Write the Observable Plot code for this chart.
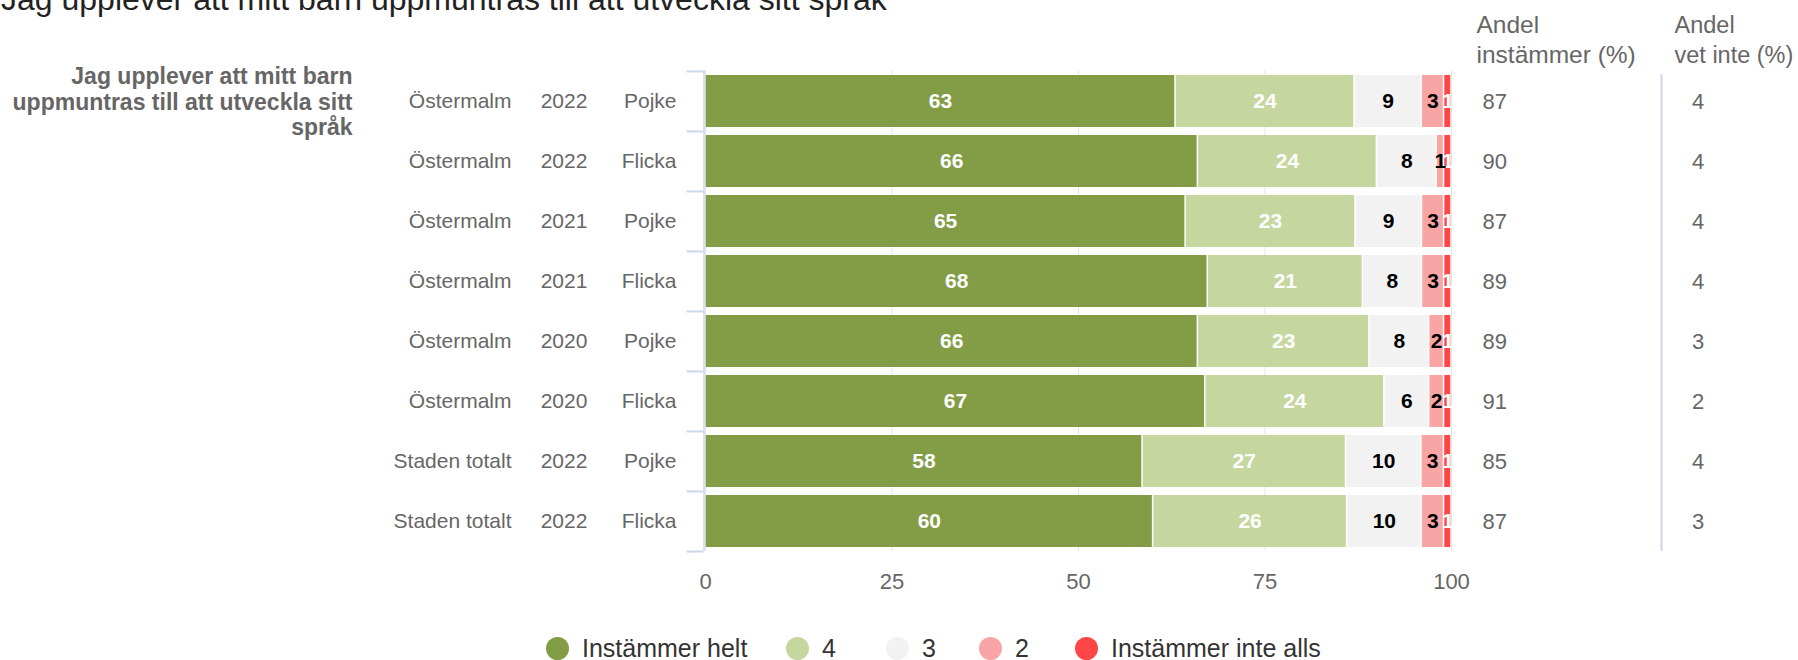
<!DOCTYPE html>
<html><head><meta charset="utf-8">
<script src="https://cdn.jsdelivr.net/npm/d3@7"></script>
<script src="https://cdn.jsdelivr.net/npm/@observablehq/plot@0.6"></script>
<style>
html,body{margin:0;padding:0;background:#fff;}
#wrap{position:relative;width:1798px;height:660px;overflow:hidden;font-family:"Liberation Sans",Arial,sans-serif;}
#title{position:absolute;left:1px;top:-17px;font-size:32px;line-height:32px;color:#222;white-space:nowrap;}
#legend{position:absolute;top:636px;left:0;width:1798px;height:24px;}
.item{position:absolute;top:0;display:flex;align-items:center;height:24px;font-size:25px;line-height:24px;color:#333;white-space:nowrap;}
.dot{width:23px;height:23px;border-radius:50%;margin-right:13px;flex:none;}
</style></head>
<body><div id="wrap"><div id="chart"></div><div id="title"></div><div id="legend"></div></div>
<script>
// ---- data ----
const titleText = "Jag upplever att mitt barn uppmuntras till att utveckla sitt språk";
const groupLabel = "Jag upplever att mitt barn\nuppmuntras till att utveckla sitt\nspråk";
const areas = ["Östermalm","Östermalm","Östermalm","Östermalm","Östermalm","Östermalm","Staden totalt","Staden totalt"];
const years = ["2022","2022","2021","2021","2020","2020","2022","2022"];
const genders = ["Pojke","Flicka","Pojke","Flicka","Pojke","Flicka","Pojke","Flicka"];
const seriesNames = ["Instämmer helt","4","3","2","Instämmer inte alls"];
const helt = [63,66,65,68,66,67,58,60];
const s4 = [24,24,23,21,23,24,27,26];
const s3 = [9,8,9,8,8,6,10,10];
const s2 = [3,1,3,3,2,2,3,3];
const inteAlls = [1,1,1,1,1,1,1,1];
const andelInstammer = [87,90,87,89,89,91,85,87];
const andelVetInte = [4,4,4,4,3,2,4,3];
const colHeaders = ["Andel\ninstämmer (%)","Andel\nvet inte (%)"];
const tickLabels = [0,25,50,75,100];

// ---- styles ----
const seriesColors = ["#829D45","#C5D79F","#F2F2F2","#FAA5A5","#FF4545"];
const labelColors = ["white","white","black","black","white"];

const seriesValues = [helt, s4, s3, s2, inteAlls];
const rows = areas.map((a,i)=>({key:i, area:a, year:years[i], gender:genders[i], agree:andelInstammer[i], dk:andelVetInte[i]}));
const long = rows.flatMap((r,i)=>seriesNames.map((s,j)=>({key:i, series:s, value:seriesValues[j][i], lc:labelColors[j]})));

const W=1798, H=660, mL=705, mR=347, mT=70, mB=109;
const step=(H-mT-mB)/rows.length;
const plotW = W-mL-mR;
const tickLen = 17/plotW;   // bracket tick length, in x-scale units
const keys = rows.map(r=>r.key);
const ticks = tickLabels.map(d=>d/100);
const grey="#666", axisCol="#ccd6eb";

const chart = Plot.plot({
  width: W, height: H,
  marginLeft: mL, marginRight: mR, marginTop: mT, marginBottom: mB,
  style: {fontFamily: '"Liberation Sans", Arial, sans-serif', background: "white", overflow: "visible"},
  x: {domain: [0,1], axis: null},
  y: {domain: keys, paddingInner: 0.135, paddingOuter: 0.0675, axis: null},
  color: {domain: seriesNames, range: seriesColors},
  marks: [
    Plot.gridX(ticks, {stroke: "#e6e6e6", strokeOpacity: 1}),
    Plot.ruleX([0], {stroke: axisCol, dx: -1.5, strokeWidth: 1.5}),
    Plot.ruleX([1], {stroke: axisCol, dx: 210, strokeWidth: 2, insetTop: 4}),
    Plot.ruleY(keys, {y: d => d, x1: -tickLen - 1.5/plotW, x2: -1.5/plotW, dy: -step/2, stroke: axisCol, strokeWidth: 2}),
    Plot.ruleY([keys[keys.length-1]], {y: d => d, x1: -tickLen - 1.5/plotW, x2: -1.5/plotW, dy: step/2, stroke: axisCol, strokeWidth: 2}),
    Plot.barX(long, Plot.stackX({x: "value", y: "key", fill: "series", offset: "normalize", insetLeft: 0.75, insetRight: 0.75})),
    Plot.text(long, Plot.stackX({x: "value", y: "key", z: "series", offset: "normalize",
      text: d => d.lc === "white" ? String(d.value) : null, fill: "white", fontWeight: "bold", fontSize: 21})),
    Plot.text(long, Plot.stackX({x: "value", y: "key", z: "series", offset: "normalize",
      text: d => d.lc === "black" ? String(d.value) : null, fill: "black", fontWeight: "bold", fontSize: 21})),
    Plot.axisX(ticks, {tickSize: 0, tickPadding: 22, tickFormat: (d,i) => String(tickLabels[i]), fontSize: 22, fill: grey, label: null}),
    // row labels
    Plot.text(rows, {y: "key", text: "area", frameAnchor: "left", dx: -194, textAnchor: "end", fontSize: 21, fill: grey}),
    Plot.text(rows, {y: "key", text: "year", frameAnchor: "left", dx: -141.5, textAnchor: "middle", fontSize: 21, fill: grey}),
    Plot.text(rows, {y: "key", text: "gender", frameAnchor: "left", dx: -29, textAnchor: "end", fontSize: 21, fill: grey}),
    // group label
    Plot.text([groupLabel], {y: () => keys[0], text: d => d, frameAnchor: "left", dx: -353, textAnchor: "end",
      fontSize: 23, fontWeight: "bold", fill: grey, lineHeight: 1.1}),
    // right columns
    Plot.text(rows, {y: "key", text: d => String(d.agree), frameAnchor: "right", dx: 31, textAnchor: "start", fontSize: 22, fill: grey}),
    Plot.text(rows, {y: "key", text: d => String(d.dk), frameAnchor: "right", dx: 246.5, textAnchor: "middle", fontSize: 22, fill: grey}),
    Plot.text([colHeaders[0]], {text: d => d, frameAnchor: "top-right", dx: 25, dy: -8, textAnchor: "start", lineAnchor: "bottom", fontSize: 24.5, fill: grey, lineHeight: 1.22}),
    Plot.text([colHeaders[1]], {text: d => d, frameAnchor: "top-right", dx: 223, dy: -8, textAnchor: "start", lineAnchor: "bottom", fontSize: 23.5, fill: grey, lineHeight: 1.27})
  ]
});
document.getElementById("chart").appendChild(chart);
document.getElementById("title").textContent = titleText;

// legend
const legendLeft = [546, 786, 886, 979, 1075];
const legend = document.getElementById("legend");
seriesNames.forEach((s,i)=>{
  const it = document.createElement("div");
  it.className = "item";
  it.style.left = legendLeft[i] + "px";
  const dot = document.createElement("span");
  dot.className = "dot";
  dot.style.background = seriesColors[i];
  const t = document.createElement("span");
  t.textContent = s;
  it.appendChild(dot); it.appendChild(t);
  legend.appendChild(it);
});
</script>
</body></html>
